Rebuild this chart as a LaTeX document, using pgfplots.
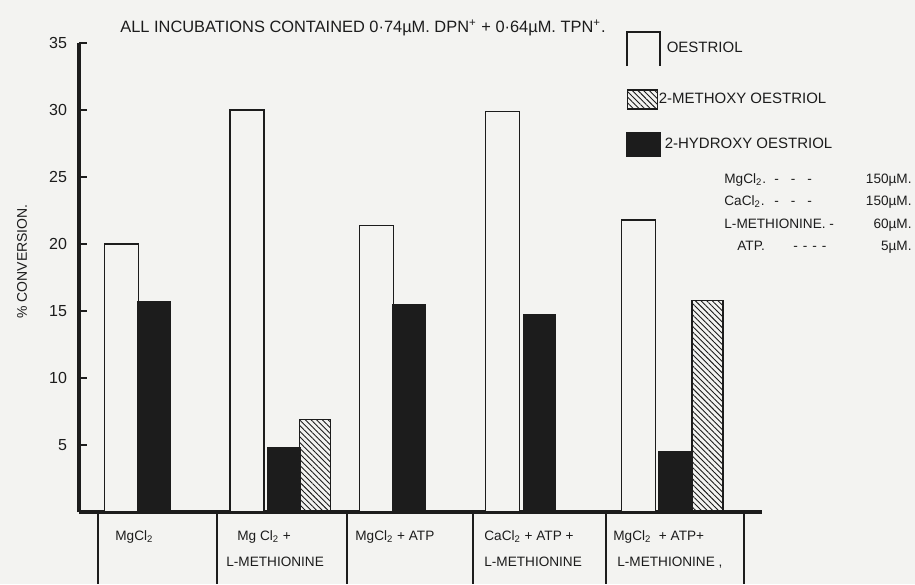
\documentclass[border=0pt]{standalone}
\usepackage{fontspec}
\setmainfont{Liberation Sans}
\usepackage{pgfplots}
\pgfplotsset{compat=1.18}
\usetikzlibrary{patterns.meta}
\definecolor{paper}{RGB}{243,243,241}
\definecolor{ink}{RGB}{28,28,28}
\newcommand{\sub}[1]{\textsubscript{#1}}
\begin{document}
\begin{tikzpicture}
\path[use as bounding box, fill=paper] (-39.5pt,-36pt) rectangle (418pt,256pt);
\begin{axis}[
  x=0.5pt, y=6.7pt,
  xmin=79, xmax=762, ymin=0, ymax=35,
  axis lines=left,
  axis line style={-, line width=1.8pt, draw=ink},
  xtick=\empty,
  ytick={5,10,...,35},
  tick align=inside,
  major tick length=4pt,
  tick style={line width=1.2pt, draw=ink},
  yticklabel style={font=\fontsize{8}{9}\selectfont, text=ink, xshift=-2.5pt},
  /pgf/number format/assume math mode=true,
  clip=false,
  every axis y label/.style={at={(rel axis cs:-0.0835,0.534)}, rotate=90, anchor=center, font=\fontsize{7}{8}\selectfont, text=ink},
  ylabel={\% CONVERSION.},
  legend style={at={(axis cs:620,36.2)}, anchor=north west, draw=none, fill=none,
    font=\fontsize{7.5}{9}\selectfont, text=ink, row sep=11pt},
  legend cell align=left,
]
\addplot[ybar, bar width=34, bar shift=0pt, draw=ink, line width=0.7pt, fill=paper,
  legend image code/.code={\draw[draw=ink, line width=0.7pt] (0pt,-8.5pt) -- (0pt,8.5pt) -- (16.5pt,8.5pt) -- (16.5pt,-8.5pt);}]
  coordinates {(121.5,20.0) (247,30.0) (376.5,21.4) (502.5,29.9) (638.5,21.8)};
\addlegendentry{\hspace{1pt}OESTRIOL}
\addplot[ybar, bar width=31, bar shift=0pt, draw=ink, line width=0.7pt,
  pattern={Lines[angle=-45,distance=2pt,line width=0.45pt]}, pattern color=ink,
  legend image code/.code={\draw[draw=ink, line width=0.6pt, pattern={Lines[angle=-45,distance=2pt,line width=0.45pt]}, pattern color=ink] (0pt,-4.75pt) rectangle (15pt,4.75pt);}]
  coordinates {(315,6.9) (707.5,15.8)};
\addlegendentry{\hspace{-3pt}2-METHOXY OESTRIOL}
\addplot[ybar, bar width=32, bar shift=0pt, draw=ink, line width=0.7pt, fill=ink,
  legend image code/.code={\draw[draw=ink, fill=ink] (0pt,-5.75pt) rectangle (16.5pt,5.75pt);}]
  coordinates {(154,15.7) (284,4.8) (409,15.5) (539.5,14.7) (675,4.5)};
\addlegendentry{2-HYDROXY OESTRIOL}

% title
\node[anchor=base west, inner sep=0pt, font=\fontsize{8.2}{9}\selectfont, text=ink] at (axis cs:120,35.82)
  {ALL INCUBATIONS CONTAINED 0·74µM. DPN\textsuperscript{+} + 0·64µM. TPN\textsuperscript{+}.};

% concentration notes
\begin{scope}[every node/.style={font=\fontsize{6.8}{8}\selectfont, text=ink, inner sep=0pt}]
\node[anchor=base west] at (axis cs:724,24.48) {MgCl\sub{2}.};
\node[anchor=base west] at (axis cs:774,24.48) {-\hspace{6pt}-\hspace{6pt}-};
\node[anchor=base east] at (axis cs:912,24.48) {150µM.};
\node[anchor=base west] at (axis cs:724,22.84) {CaCl\sub{2}.};
\node[anchor=base west] at (axis cs:774,22.84) {-\hspace{6pt}-\hspace{6pt}-};
\node[anchor=base east] at (axis cs:912,22.84) {150µM.};
\node[anchor=base west] at (axis cs:724,21.19) {L-METHIONINE.\ -};
\node[anchor=base east] at (axis cs:912,21.19) {60µM.};
\node[anchor=base west] at (axis cs:737,19.55) {ATP.};
\node[anchor=base west] at (axis cs:793,19.55) {-\hspace{2.5pt}-\hspace{2.5pt}-\hspace{2.5pt}-};
\node[anchor=base east] at (axis cs:912,19.55) {5µM.};
\end{scope}

% category cells below the axis
\pgfplotsinvokeforeach{98,217,347,473,606,744}{
  \draw[ink, line width=0.8pt] (axis cs:#1,0) -- (axis cs:#1,-5.4);
}
\begin{scope}[every node/.style={font=\fontsize{6.8}{8}\selectfont, text=ink, anchor=base west, inner sep=0pt}]
\node at (axis cs:115,-2.16) {MgCl\sub{2}};
\node at (axis cs:237,-2.16) {Mg Cl\sub{2} +};
\node at (axis cs:226,-4.03) {L-METHIONINE};
\node at (axis cs:355,-2.16) {MgCl\sub{2} + ATP};
\node at (axis cs:484,-2.16) {CaCl\sub{2} + ATP +};
\node at (axis cs:484,-4.03) {L-METHIONINE};
\node at (axis cs:613,-2.16) {MgCl\sub{2} \ + ATP+};
\node at (axis cs:617,-4.03) {L-METHIONINE ,};
\end{scope}
\end{axis}
\end{tikzpicture}
\end{document}
